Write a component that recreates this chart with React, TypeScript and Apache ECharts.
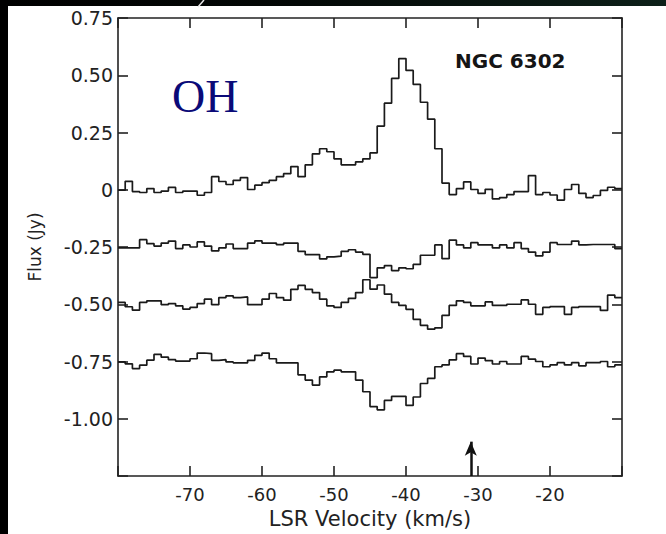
import React, { useEffect, useRef } from "react";
import * as echarts from "echarts";

// Channel edges (km/s), 1 km/s channels
const VELOCITY_EDGES = [
  -80, -79, -78, -77, -76, -75, -74, -73, -72, -71, -70, -69, -68, -67, -66, -65, -64, -63, -62, -61,
  -60, -59, -58, -57, -56, -55, -54, -53, -52, -51, -50, -49, -48, -47, -46, -45, -44, -43, -42, -41,
  -40, -39, -38, -37, -36, -35, -34, -33, -32, -31, -30, -29, -28, -27, -26, -25, -24, -23, -22, -21,
  -20, -19, -18, -17, -16, -15, -14, -13, -12, -11, -10,
];

// Spectra (Jy, relative to each trace's baseline)
const SPEC_A = [
  -0.002, 0.037, -0.008, -0.012, 0.005, -0.012, -0.006, 0.010, -0.012, -0.006,
  -0.006, -0.024, -0.012, 0.057, 0.036, 0.023, 0.041, 0.053, 0.001, 0.020,
  0.031, 0.041, 0.057, 0.070, 0.101, 0.057, 0.109, 0.157, 0.179, 0.166,
  0.135, 0.109, 0.109, 0.122, 0.135, 0.161, 0.278, 0.378, 0.486, 0.573,
  0.521, 0.460, 0.382, 0.308, 0.179, 0.029, -0.021, 0.005, 0.034, 0.001,
  -0.016, 0.002, -0.040, -0.034, -0.021, -0.008, -0.008, 0.062, -0.021, -0.012,
  -0.023, -0.045, 0.001, 0.023, -0.016, -0.034, -0.025, -0.003, 0.011, 0.005,
];
const SPEC_B = [
  -0.004, -0.004, -0.004, 0.032, 0.015, 0.004, 0.017, 0.026, -0.007, 0.009,
  0.000, 0.022, 0.004, -0.017, -0.004, 0.013, -0.007, -0.007, 0.017, 0.027,
  0.017, 0.017, 0.010, 0.017, 0.017, -0.019, -0.033, -0.033, -0.052, -0.043,
  -0.040, -0.019, -0.012, -0.022, -0.032, -0.134, -0.091, -0.081, -0.103, -0.091,
  -0.095, -0.076, -0.036, -0.036, 0.009, -0.051, 0.030, 0.009, -0.004, 0.019,
  0.009, 0.009, -0.004, 0.009, -0.004, 0.019, -0.007, -0.022, -0.039, -0.022,
  0.019, 0.011, 0.011, 0.026, 0.009, 0.011, 0.011, 0.011, 0.011, -0.007,
];
const SPEC_C = [
  0.008, -0.011, -0.026, 0.008, 0.015, 0.015, -0.002, 0.003, -0.007, -0.021,
  -0.014, 0.003, 0.022, -0.002, 0.029, 0.037, 0.029, 0.032, -0.002, -0.002,
  0.022, 0.047, 0.029, 0.018, 0.065, 0.082, 0.065, 0.051, 0.022, -0.007,
  -0.014, 0.008, 0.026, 0.051, 0.107, 0.066, 0.084, 0.044, 0.008, -0.005,
  -0.022, -0.066, -0.092, -0.109, -0.103, -0.049, -0.005, 0.015, 0.008, -0.007,
  -0.007, 0.010, -0.005, -0.005, 0.000, 0.000, 0.019, 0.000, -0.044, -0.014,
  -0.010, -0.010, -0.044, -0.014, -0.010, -0.010, -0.010, -0.027, 0.040, 0.029,
];
const SPEC_D = [
  -0.002, -0.010, -0.031, -0.016, 0.006, 0.031, 0.019, 0.008, 0.002, 0.002,
  0.012, 0.037, 0.034, 0.005, 0.008, -0.002, -0.006, -0.006, 0.005, 0.027,
  0.037, 0.012, -0.006, -0.006, -0.006, -0.058, -0.081, -0.103, -0.067, -0.045,
  -0.038, -0.045, -0.045, -0.081, -0.132, -0.197, -0.211, -0.170, -0.152, -0.152,
  -0.192, -0.155, -0.096, -0.074, -0.023, -0.015, 0.007, 0.034, 0.022, -0.011,
  0.015, 0.004, -0.011, 0.000, -0.011, -0.011, 0.022, 0.010, 0.000, -0.023,
  -0.015, -0.005, -0.015, -0.005, -0.019, -0.005, -0.005, 0.000, -0.023, -0.015,
];
const SPECTRA = [SPEC_A, SPEC_B, SPEC_C, SPEC_D];
const OFFSETS = [0, -0.25, -0.5, -0.75];

// Arrow marker velocity and extent
const ARROW_VELOCITY = -31;
const ARROW_FROM = -1.25;
const ARROW_TO = -1.1;

const X_MIN = -80;
const X_MAX = -10;
const Y_MIN = -1.25;
const Y_MAX = 0.75;

const SOURCE_LABEL = "NGC 6302";
const LINE_LABEL = "OH";
const X_NAME = "LSR Velocity (km/s)";
const Y_NAME = "Flux (Jy)";

const FONT = "DejaVu Sans";

export default function App() {
  const ref = useRef<HTMLDivElement>(null);

  useEffect(() => {
    document.body.style.margin = "0";
    document.body.style.background = "#ffffff";
    if (!ref.current) return;
    const chart = echarts.init(ref.current, null, { renderer: "svg" });

    const series: any[] = SPECTRA.map((vals, k) => ({
      type: "line",
      step: "end",
      symbol: "none",
      xAxisIndex: 0,
      yAxisIndex: 0,
      lineStyle: { color: "#1a1a1a", width: 1.7 },
      data: VELOCITY_EDGES.map((v, i) => [v, vals[Math.min(i, vals.length - 1)] + OFFSETS[k]]),
      markLine:
        k === 0
          ? {
              silent: true,
              symbol: ["none", "arrow"],
              symbolSize: [9, 14],
              label: { show: false },
              lineStyle: { color: "#111", width: 2.5, type: "solid" },
              data: [[{ coord: [ARROW_VELOCITY, ARROW_FROM] }, { coord: [ARROW_VELOCITY, ARROW_TO] }]],
            }
          : undefined,
    }));

    const axisLine = { show: true, onZero: false, lineStyle: { color: "#222", width: 1.6 } };
    const axisTick = { show: true, inside: true, length: 10, lineStyle: { color: "#222", width: 1.6 } };

    chart.setOption({
      animation: false,
      backgroundColor: "#ffffff",
      grid: { left: 118, top: 18, right: 44, bottom: 55, containLabel: false },
      title: {
        text: SOURCE_LABEL,
        left: 455,
        top: 51,
        padding: 0,
        textStyle: { fontFamily: FONT, fontSize: 20, fontWeight: "bold", color: "#151515" },
      },
      xAxis: [
        {
          type: "value",
          position: "bottom",
          min: X_MIN,
          max: X_MAX,
          interval: 10,
          axisLine,
          axisTick,
          splitLine: { show: false },
          axisLabel: {
            margin: 9,
            fontFamily: FONT,
            fontSize: 18,
            color: "#222",
            formatter: (v: number) => (v === X_MIN || v === X_MAX ? "" : String(v)),
          },
          name: X_NAME,
          nameLocation: "middle",
          nameGap: 32,
          nameTextStyle: { fontFamily: FONT, fontSize: 21, color: "#222" },
        },
        {
          type: "value",
          position: "top",
          min: X_MIN,
          max: X_MAX,
          interval: 10,
          axisLine,
          axisTick,
          splitLine: { show: false },
          axisLabel: { show: false },
        },
      ],
      yAxis: [
        {
          type: "value",
          position: "left",
          min: Y_MIN,
          max: Y_MAX,
          interval: 0.25,
          axisLine,
          axisTick,
          splitLine: { show: false },
          axisLabel: {
            margin: 5,
            fontFamily: FONT,
            fontSize: 19,
            color: "#222",
            formatter: (v: number) => (Math.abs(v - Y_MIN) < 1e-9 ? "" : Math.abs(v) < 1e-9 ? "0" : v.toFixed(2)),
          },
          name: Y_NAME,
          nameLocation: "middle",
          nameGap: 75,
          nameTextStyle: { fontFamily: FONT, fontSize: 17, color: "#222" },
        },
        {
          type: "value",
          position: "right",
          min: Y_MIN,
          max: Y_MAX,
          interval: 0.25,
          axisLine,
          axisTick,
          splitLine: { show: false },
          axisLabel: { show: false },
        },
      ],
      graphic: [
        {
          type: "rect",
          shape: { x: 0, y: 0, width: 666, height: 6 },
          style: {
            fill: new echarts.graphic.LinearGradient(0, 0, 1, 0, [
              { offset: 0, color: "#000000" },
              { offset: 0.45, color: "#030806" },
              { offset: 1, color: "#0d2019" },
            ]),
          },
          silent: true,
        },
        {
          type: "rect",
          shape: { x: 0, y: 0, width: 8, height: 534 },
          style: { fill: "#000000" },
          silent: true,
        },
        {
          type: "line",
          shape: { x1: 204, y1: 0, x2: 198, y2: 7 },
          style: { stroke: "#e8e8e8", lineWidth: 1.5 },
          silent: true,
        },
        {
          type: "text",
          x: 172,
          y: 96,
          style: {
            text: LINE_LABEL,
            fontFamily: "Liberation Serif",
            fontSize: 46,
            fill: "#0a0a78",
            verticalAlign: "middle",
            align: "left",
          },
          silent: true,
        },
      ],
      series,
    });

    return () => chart.dispose();
  }, []);

  return (
    <div
      ref={ref}
      style={{ position: "fixed", left: 0, top: 0, width: 666, height: 534, background: "#ffffff" }}
    />
  );
}
